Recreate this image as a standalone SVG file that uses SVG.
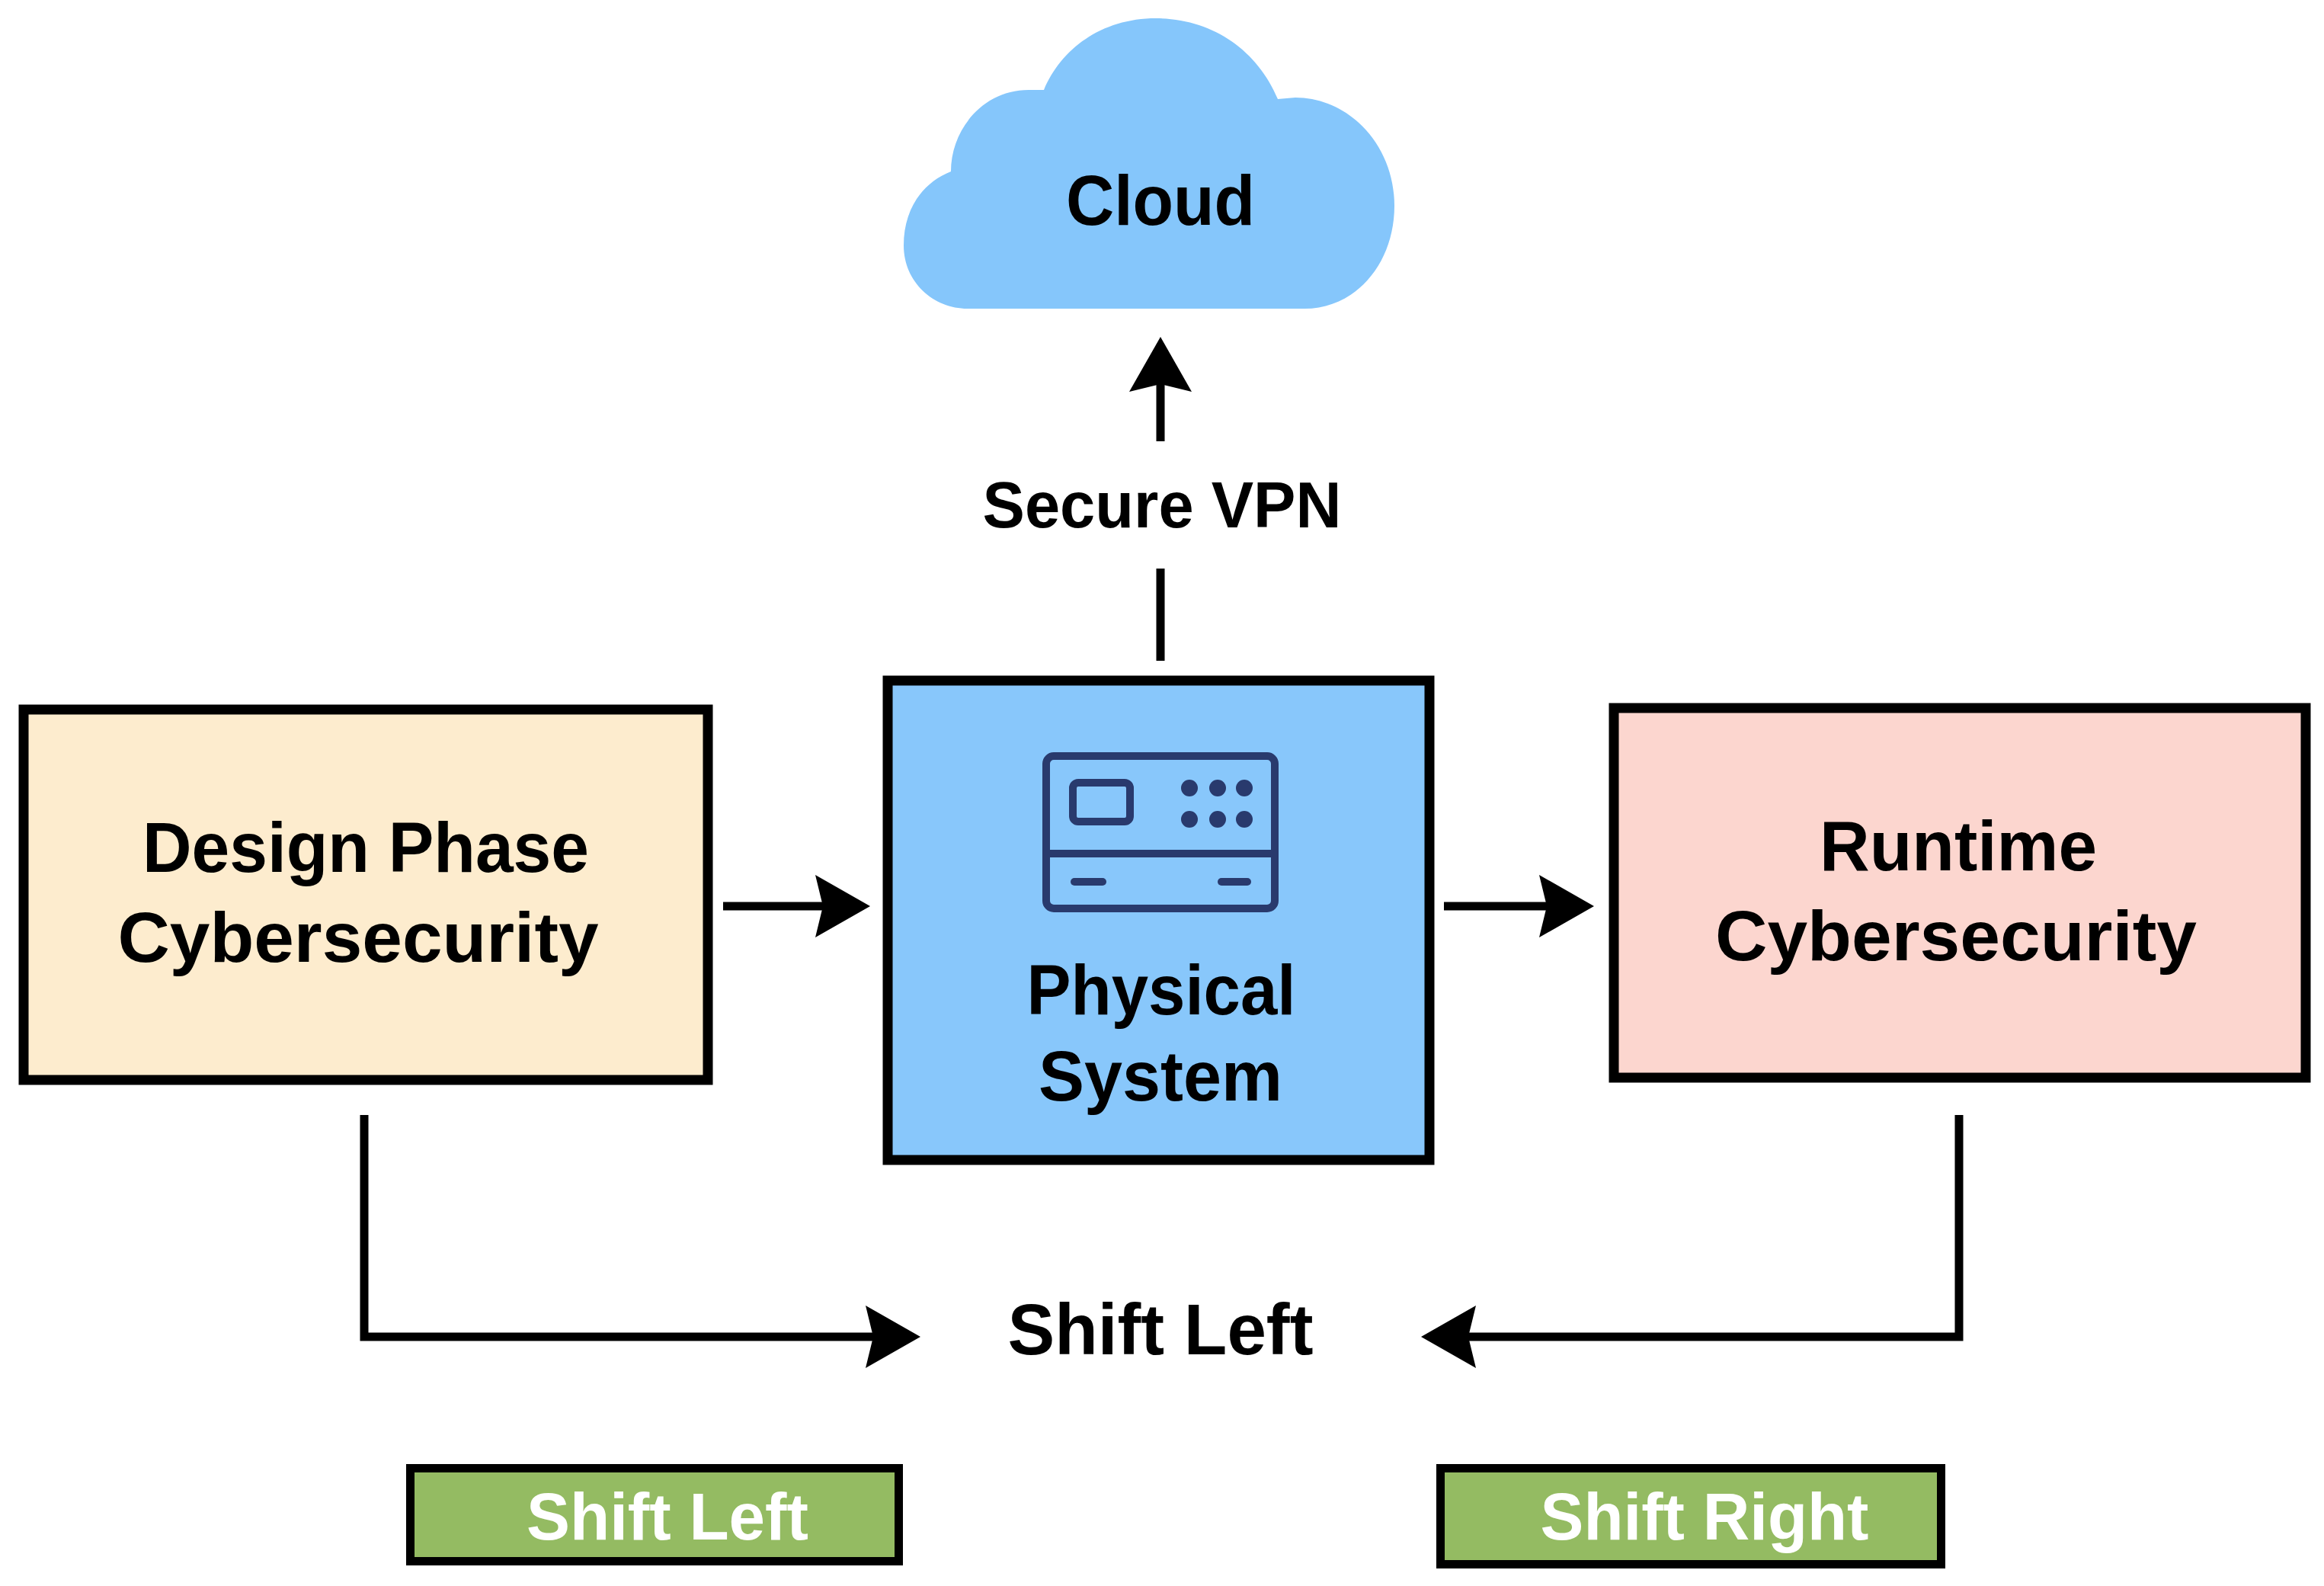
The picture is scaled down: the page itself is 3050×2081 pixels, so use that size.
<svg xmlns="http://www.w3.org/2000/svg" width="3050" height="2081" viewBox="0 0 3050 2081">
  <defs>
    <style>
      .t { font-family: "Liberation Sans", Arial, sans-serif; font-weight: 700; fill: #000; text-anchor: middle; }
      .tw { font-family: "Liberation Sans", Arial, sans-serif; font-weight: 700; fill: #fff; text-anchor: middle; }
      .box { stroke: #000; stroke-width: 13; }
      .conn { fill: none; stroke: #000; stroke-width: 11; stroke-linejoin: miter; }
      .ico { fill: none; stroke: #293A6D; stroke-width: 10; }
    </style>
    <marker id="ah" viewBox="0 0 72 82" refX="10" refY="41" markerWidth="72" markerHeight="82" markerUnits="userSpaceOnUse" orient="auto">
      <path d="M72,41 L0,0 L10,41 L0,82 Z" fill="#000"/>
    </marker>
  </defs>

  <rect x="0" y="0" width="3050" height="2081" fill="#fff"/>

  <g id="cloud">
    <path d="M1270,405 L1712,405 C1780,405 1830,345 1830,270 C1830,190 1770,128 1700,128 L1677,130 C1650,65 1590,24 1517,24 C1445,24 1392,65 1370,118 L1350,118 C1290,118 1248,170 1248,225 C1210,240 1186,275 1186,322 C1186,370 1225,405 1270,405 Z" fill="#85C6FB"/>
    <text class="t" x="1523" y="295" font-size="92" textLength="248" lengthAdjust="spacingAndGlyphs">Cloud</text>
  </g>

  <g id="vpn-label">
    <text class="t" x="1525" y="692" font-size="86" textLength="471" lengthAdjust="spacingAndGlyphs">Secure VPN</text>
  </g>

  <g id="design">
    <rect class="box" x="31" y="931" width="898" height="486" fill="#FDECCE"/>
    <text class="t" x="480" y="1144" font-size="92" textLength="586" lengthAdjust="spacingAndGlyphs">Design Phase</text>
    <text class="t" x="470" y="1262" font-size="92" textLength="631" lengthAdjust="spacingAndGlyphs">Cybersecurity</text>
  </g>

  <g id="physical">
    <rect class="box" x="1165" y="893" width="711" height="629" fill="#88C7FB"/>
    <rect class="ico" x="1373" y="992" width="300" height="200" rx="10"/>
    <line class="ico" x1="1373" y1="1120" x2="1673" y2="1120"/>
    <rect class="ico" x="1408" y="1027" width="75" height="51" rx="7" stroke-width="8"/>
    <g fill="#293A6D">
      <circle cx="1561" cy="1034" r="11"/>
      <circle cx="1598" cy="1034" r="11"/>
      <circle cx="1633" cy="1034" r="11"/>
      <circle cx="1561" cy="1075" r="11"/>
      <circle cx="1598" cy="1075" r="11"/>
      <circle cx="1633" cy="1075" r="11"/>
    </g>
    <line x1="1410" y1="1157" x2="1447" y2="1157" stroke="#293A6D" stroke-width="10" stroke-linecap="round"/>
    <line x1="1603" y1="1157" x2="1637" y2="1157" stroke="#293A6D" stroke-width="10" stroke-linecap="round"/>
    <text class="t" x="1524" y="1331" font-size="92" textLength="353" lengthAdjust="spacingAndGlyphs">Physical</text>
    <text class="t" x="1523" y="1444" font-size="92" textLength="320" lengthAdjust="spacingAndGlyphs">System</text>
  </g>

  <g id="runtime">
    <rect class="box" x="2118" y="929" width="908" height="485" fill="#FCD6CF"/>
    <text class="t" x="2570" y="1142" font-size="92" textLength="364" lengthAdjust="spacingAndGlyphs">Runtime</text>
    <text class="t" x="2567" y="1260" font-size="92" textLength="632" lengthAdjust="spacingAndGlyphs">Cybersecurity</text>
  </g>

  <g id="shift-label">
    <text class="t" x="1523" y="1777" font-size="94" textLength="401" lengthAdjust="spacingAndGlyphs">Shift Left</text>
  </g>

  <g id="badge-left">
    <rect x="538.5" y="1926.5" width="641" height="122" fill="#94BB62" stroke="#000" stroke-width="11"/>
    <text class="tw" x="876" y="2020" font-size="88" textLength="370" lengthAdjust="spacingAndGlyphs">Shift Left</text>
  </g>

  <g id="badge-right">
    <rect x="1890.5" y="1926.5" width="657" height="126" fill="#94BB62" stroke="#000" stroke-width="11"/>
    <text class="tw" x="2237" y="2020" font-size="88" textLength="431" lengthAdjust="spacingAndGlyphs">Shift Right</text>
  </g>

  <g id="connectors">
    <path class="conn" d="M1523,579 L1523,504" marker-end="url(#ah)"/>
    <path class="conn" d="M1523,867 L1523,746"/>
    <path class="conn" d="M949,1189 L1080,1189" marker-end="url(#ah)"/>
    <path class="conn" d="M1895,1189 L2030,1189" marker-end="url(#ah)"/>
    <path class="conn" d="M478,1463 L478,1754 L1146,1754" marker-end="url(#ah)"/>
    <path class="conn" d="M2571,1463 L2571,1754 L1927,1754" marker-end="url(#ah)"/>
  </g>
</svg>
